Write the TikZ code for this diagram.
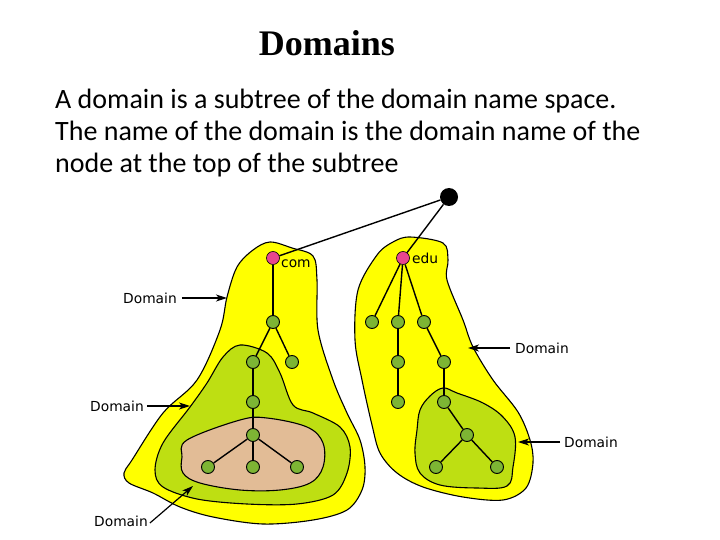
\documentclass[tikz,border=0pt]{standalone}
\usepackage{fontspec}
\setmainfont{Carlito}
\newfontfamily\titlefont{Liberation Serif}
\newfontfamily\labfont{DejaVu Sans}
\usetikzlibrary{arrows.meta}
\definecolor{yel}{HTML}{FFFF00}
\definecolor{lgreen}{HTML}{BEDF12}
\definecolor{tan}{HTML}{E2BC96}
\definecolor{ngreen}{HTML}{7DB534}
\definecolor{pink}{HTML}{E8468E}
\tikzset{
  blob/.style={draw=black, line width=1.1pt, line join=round},
  gn/.style={circle, fill=ngreen, draw=black, line width=0.9pt, minimum size=13pt, inner sep=0pt},
  pn/.style={circle, fill=pink, draw=black, line width=0.6pt, minimum size=13pt, inner sep=0pt},
  rootn/.style={circle, fill=black, minimum size=18pt, inner sep=0pt},
  edge/.style={draw=black, line width=1.4pt},
  lab/.style={font=\labfont\fontsize{13.8}{16}\selectfont, inner sep=1pt},
  arr/.style={draw=black, line width=1.2pt, -{Stealth[length=11pt,width=7pt,inset=3pt]}},
  body/.style={font=\fontsize{28}{32}\selectfont, inner sep=0pt, anchor=base west}
}
\begin{document}
\begin{tikzpicture}[x=1pt,y=-1pt]
\useasboundingbox (0,0) rectangle (720,540);
% title and text
\node[font=\titlefont\bfseries\fontsize{36}{40}\selectfont, inner sep=0pt, anchor=base] (title) at (327,56) {Domains};
\node[body] (t1) at (55,109) {A domain is a subtree of the domain name space.};
\node[body] (t2) at (55,141) {The name of the domain is the domain name of the};
\node[body] (t3) at (55,173) {node at the top of the subtree};
% left yellow blob
\draw[blob, fill=yel] plot[smooth cycle, tension=0.55] coordinates {
 (270,242) (292,248) (313,256) (317,280) (318,330) (333,380) (347,413) (360,440)
 (365,467) (362,490) (347,510) (313,520) (263,524) (213,517) (180,507) (153,493)
 (129,483) (124,473) (132,460) (163,413) (197,380) (220,330) (227,297) (237,267) (253,250)};
% left green blob
\draw[blob, fill=lgreen] plot[smooth cycle, tension=0.55] coordinates {
 (240,345) (267,353) (280,373) (293,405) (313,413) (340,427) (350,447) (347,473)
 (333,495) (297,504) (247,504) (197,499) (163,487) (155,470) (163,443) (190,407)
 (207,383) (223,357)};
% tan blob
\draw[blob, fill=tan] plot[smooth cycle, tension=0.6] coordinates {
 (187,440) (240,420) (267,418) (307,427) (323,443) (323,467) (310,483) (280,490)
 (240,490) (200,483) (183,473) (182,457)};
% right yellow blob
\draw[blob, fill=yel] plot[smooth cycle, tension=0.55] coordinates {
 (410,237) (443,243) (448,260) (447,280) (463,320) (473,347) (493,380) (518,412)
 (530,440) (533,463) (526,488) (503,500) (463,497) (423,487) (397,473) (380,453)
 (372,425) (362,380) (355,340) (358,290) (377,255) (393,242)};
% right green blob
\draw[blob, fill=lgreen] plot[smooth cycle, tension=0.6] coordinates {
 (443,388) (457,393) (483,403) (503,417) (515,437) (513,467) (507,486) (477,488)
 (440,485) (420,473) (415,453) (417,430) (420,410) (430,396)};
% nodes
\node[rootn] (root) at (449,197) {};
\node[pn] (com) at (273,258) {};
\node[pn] (edu) at (403,258) {};
\node[lab, anchor=west] (comlab) at (280,264) {com};
\node[lab, anchor=west] (edulab) at (411,258) {edu};
% left tree
\node[gn] (c1) at (273,322) {};
\node[gn] (c2) at (253,362) {};
\node[gn] (c3) at (292,362) {};
\node[gn] (c4) at (253,402) {};
\node[gn] (c5) at (253,435) {};
\node[gn] (c6) at (208,467) {};
\node[gn] (c7) at (253,467) {};
\node[gn] (c8) at (297,467) {};
% right tree
\node[gn] (e1) at (372,322) {};
\node[gn] (e2) at (398,322) {};
\node[gn] (e3) at (424,322) {};
\node[gn] (e4) at (398,362) {};
\node[gn] (e5) at (444,362) {};
\node[gn] (e6) at (398,402) {};
\node[gn] (e7) at (444,402) {};
\node[gn] (e8) at (467,435) {};
\node[gn] (e9) at (436,467) {};
\node[gn] (e10) at (497,467) {};
% edges
\path[edge] (root) -- (com);
\path[edge] (root) -- (edu);
\path[edge] (com) -- (c1);
\path[edge] (c1) -- (c2);
\path[edge] (c1) -- (c3);
\path[edge] (c2) -- (c4);
\path[edge] (c4) -- (c5);
\path[edge] (c5) -- (c6);
\path[edge] (c5) -- (c7);
\path[edge] (c5) -- (c8);
\path[edge] (edu) -- (e1);
\path[edge] (edu) -- (e2);
\path[edge] (edu) -- (e3);
\path[edge] (e2) -- (e4);
\path[edge] (e4) -- (e6);
\path[edge] (e3) -- (e5);
\path[edge] (e5) -- (e7);
\path[edge] (e7) -- (e8);
\path[edge] (e8) -- (e9);
\path[edge] (e8) -- (e10);
% labels with arrows
\coordinate (a1) at (227,298);
\coordinate (a2) at (190,406);
\coordinate (a3) at (193,486);
\coordinate (a4) at (468,348);
\coordinate (a5) at (518,442);
\node[lab, anchor=west] (d1) at (122,298) {Domain};
\node[lab, anchor=west] (d2) at (89,406) {Domain};
\node[lab, anchor=west] (d3) at (93,521) {Domain};
\node[lab, anchor=west] (d4) at (514,348) {Domain};
\node[lab, anchor=west] (d5) at (563,442) {Domain};
\draw[arr] ([xshift=4pt]d1.east) -- (a1);
\draw[arr] ([xshift=2pt]d2.east) -- (a2);
\draw[arr] ([xshift=1pt,yshift=-2pt]d3.east) -- (a3);
\draw[arr] ([xshift=-4pt]d4.west) -- (a4);
\draw[arr] ([xshift=-3pt]d5.west) -- (a5);
\end{tikzpicture}
\end{document}
